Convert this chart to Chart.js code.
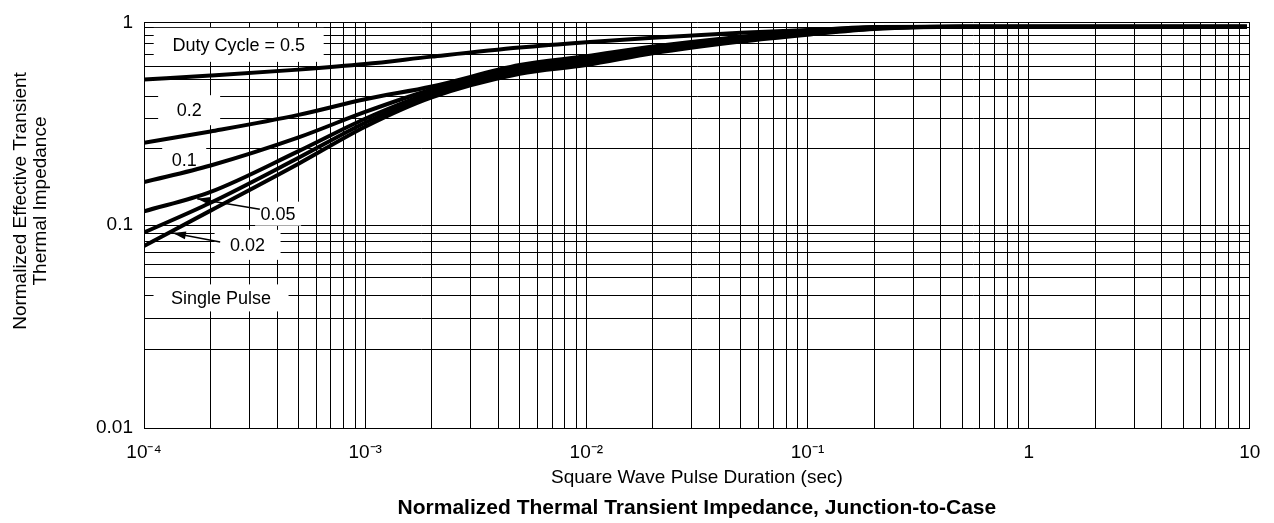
<!DOCTYPE html>
<html>
<head>
<meta charset="utf-8">
<title>Normalized Thermal Transient Impedance</title>
<script src="https://cdn.jsdelivr.net/npm/chart.js@4.4.1/dist/chart.umd.min.js"></script>
<style>
  html, body { margin: 0; padding: 0; background: #fff; }
  #chart { display: block; }
</style>
</head>
<body>
<canvas id="chart" width="1274" height="523"></canvas>
<script>
/* =========================================================
   1. DATA
========================================================= */

// square wave pulse duration (sec)
const pulseTimes = [1e-4, 2e-4, 5e-4, 1e-3, 2e-3, 5e-3, 1e-2, 2e-2, 5e-2, 1e-1, 2e-1, 5e-1, 1, 9.7];

// normalized effective transient thermal impedance, one list per duty cycle
const duty05      = [0.523, 0.547, 0.585, 0.623, 0.678, 0.752, 0.799, 0.840, 0.888, 0.918, 0.944, 0.952, 0.952, 0.952];
const duty02      = [0.255, 0.290, 0.350, 0.418, 0.483, 0.616, 0.681, 0.760, 0.850, 0.908, 0.949, 0.952, 0.952, 0.952];
const duty01      = [0.163, 0.197, 0.271, 0.362, 0.467, 0.603, 0.666, 0.748, 0.840, 0.898, 0.944, 0.952, 0.952, 0.952];
const duty005     = [0.117, 0.146, 0.232, 0.335, 0.452, 0.589, 0.651, 0.736, 0.831, 0.888, 0.939, 0.952, 0.952, 0.952];
const duty002     = [0.092, 0.129, 0.215, 0.320, 0.442, 0.576, 0.637, 0.724, 0.817, 0.878, 0.934, 0.952, 0.952, 0.952];
const singlePulse = [0.079, 0.118, 0.201, 0.306, 0.427, 0.558, 0.616, 0.704, 0.804, 0.869, 0.928, 0.952, 0.952, 0.952];

const seriesNames  = ['0.5', '0.2', '0.1', '0.05', '0.02', 'Single Pulse'];
const seriesValues = [duty05, duty02, duty01, duty005, duty002, singlePulse];

// axes
const xDecades      = [1e-4, 1e-3, 1e-2, 1e-1, 1, 10];
const xDecadeLabels = ['10⁻⁴', '10⁻³', '10⁻²', '10⁻¹', '1', '10'];
const xMinorSteps   = [2, 3, 4, 5, 6, 7, 8, 9];

const yDecades      = [0.01, 0.1, 1];
const yDecadeLabels = ['0.01', '0.1', '1'];
// the printed grid is not a clean 1..9 log grid, these are read off the picture
const yGridLines    = [0.944, 0.864, 0.790, 0.698, 0.609, 0.522, 0.430, 0.336, 0.238,
                       0.0913, 0.0827, 0.0737, 0.0641, 0.0551, 0.0451, 0.0346, 0.0243];

// curve labels (text, anchor time, anchor impedance)
const labelTexts  = ['Duty Cycle = 0.5', '0.2', '0.1', '0.05', '0.02', 'Single Pulse'];
const labelTimes  = [2.68e-4, 1.6e-4, 1.52e-4, 4.04e-4, 2.94e-4, 2.23e-4];
const labelLevels = [0.775, 0.369, 0.210, 0.114, 0.080, 0.0438];

// leader arrows for 0.05 and 0.02 (from label to curve)
const arrowFromTimes  = [3.34e-4, 2.21e-4];
const arrowFromLevels = [0.120, 0.0827];
const arrowToTimes    = [1.74e-4, 1.35e-4];
const arrowToLevels   = [0.135, 0.0915];

/* =========================================================
   2. HELPERS
========================================================= */

const FONT = '"Liberation Sans", Arial, Helvetica, sans-serif';

function sameValue(a, b) {
    return Math.abs(Math.log10(a) - Math.log10(b)) < 1e-6;
}

function decadeLabel(value, decades, labels) {
    const i = decades.findIndex(d => sameValue(d, value));
    return i >= 0 ? labels[i] : '';
}

function xGridValues() {
    const values = [];
    xDecades.forEach((d, i) => {
        values.push(d);
        if (i < xDecades.length - 1) {
            xMinorSteps.forEach(s => values.push(d * s));
        }
    });
    return values;
}

/* =========================================================
   3. PLUGINS
========================================================= */

const boxW = [170, 62, 44, 46, 66, 135];
const boxH = [34, 30, 24, 24, 30, 27];

const curveLabels = {
    id: 'curveLabels',
    beforeDatasetsDraw(chart) {
        const { ctx, scales: { x, y } } = chart;
        ctx.save();
        ctx.font = '18px ' + FONT;
        ctx.textAlign = 'center';
        ctx.textBaseline = 'middle';
        labelTexts.forEach((text, i) => {
            const px = x.getPixelForValue(labelTimes[i]);
            const py = y.getPixelForValue(labelLevels[i]);
            ctx.fillStyle = '#fff';
            ctx.fillRect(px - boxW[i] / 2, py - boxH[i] / 2, boxW[i], boxH[i]);
            ctx.fillStyle = '#000';
            ctx.fillText(text, px, py + 1);
        });
        ctx.restore();
    },
    afterDatasetsDraw(chart) {
        const { ctx, scales: { x, y } } = chart;
        ctx.save();
        ctx.strokeStyle = '#000';
        ctx.fillStyle = '#000';
        ctx.lineWidth = 1.5;
        arrowFromTimes.forEach((t, i) => {
            const x0 = x.getPixelForValue(t);
            const y0 = y.getPixelForValue(arrowFromLevels[i]);
            const x1 = x.getPixelForValue(arrowToTimes[i]);
            const y1 = y.getPixelForValue(arrowToLevels[i]);
            const a = Math.atan2(y1 - y0, x1 - x0);
            ctx.beginPath();
            ctx.moveTo(x0, y0);
            ctx.lineTo(x1, y1);
            ctx.stroke();
            ctx.beginPath();
            ctx.moveTo(x1, y1);
            ctx.lineTo(x1 - 13 * Math.cos(a) + 4 * Math.sin(a), y1 - 13 * Math.sin(a) - 4 * Math.cos(a));
            ctx.lineTo(x1 - 13 * Math.cos(a) - 4 * Math.sin(a), y1 - 13 * Math.sin(a) + 4 * Math.cos(a));
            ctx.closePath();
            ctx.fill();
        });
        ctx.restore();
    },
    afterDraw(chart) {
        // two line y axis title, sits a bit above the plot middle
        const { ctx } = chart;
        ctx.save();
        ctx.font = '19px ' + FONT;
        ctx.fillStyle = '#000';
        ctx.textAlign = 'center';
        ctx.textBaseline = 'middle';
        ctx.translate(21, 201);
        ctx.rotate(-Math.PI / 2);
        ctx.fillText('Normalized Effective Transient', 0, 0);
        ctx.fillText('Thermal Impedance', 0, 20);
        ctx.restore();
    }
};

/* =========================================================
   4. CHART
========================================================= */

Chart.defaults.font.family = FONT;
Chart.defaults.color = '#000';

const datasets = seriesValues.map((vals, i) => ({
    label: seriesNames[i],
    data: vals.map((v, k) => ({ x: pulseTimes[k], y: v })),
    borderColor: '#000',
    borderWidth: 4,
    pointRadius: 0,
    fill: false,
    cubicInterpolationMode: 'monotone'
}));

new Chart(document.getElementById('chart'), {
    type: 'line',
    data: { datasets },
    plugins: [curveLabels],
    options: {
        responsive: false,
        animation: false,
        layout: { padding: { top: 18.3, right: 24, bottom: 2.4, left: 0 } },
        plugins: {
            legend: { display: false },
            tooltip: { enabled: false },
            title: {
                display: true,
                position: 'bottom',
                fullSize: false,
                text: 'Normalized Thermal Transient Impedance, Junction-to-Case',
                font: { size: 21, weight: 'bold' },
                color: '#000',
                padding: 0
            }
        },
        scales: {
            x: {
                type: 'logarithmic',
                min: 1e-4,
                max: 10,
                afterBuildTicks: scale => { scale.ticks = xGridValues().map(v => ({ value: v })); },
                afterFit: scale => { scale.height = 67.4; },
                grid: { color: '#000', lineWidth: 1, drawTicks: false },
                border: { color: '#000', width: 1 },
                ticks: {
                    autoSkip: false,
                    maxRotation: 0,
                    padding: 13.6,
                    font: { size: 19 },
                    color: '#000',
                    callback: v => decadeLabel(v, xDecades, xDecadeLabels)
                },
                title: {
                    display: true,
                    text: 'Square Wave Pulse Duration (sec)',
                    font: { size: 19 },
                    color: '#000',
                    padding: { top: 0, bottom: 6 }
                }
            },
            y: {
                type: 'logarithmic',
                min: 0.01,
                max: 1,
                afterBuildTicks: scale => {
                    scale.ticks = yDecades.concat(yGridLines).map(v => ({ value: v }));
                },
                afterFit: scale => { scale.width = 144; },
                grid: { color: '#000', lineWidth: 1, drawTicks: false },
                border: { color: '#000', width: 1 },
                ticks: {
                    autoSkip: false,
                    padding: 11,
                    font: { size: 19 },
                    color: '#000',
                    callback: v => decadeLabel(v, yDecades, yDecadeLabels)
                }
            }
        }
    }
});
</script>
</body>
</html>
